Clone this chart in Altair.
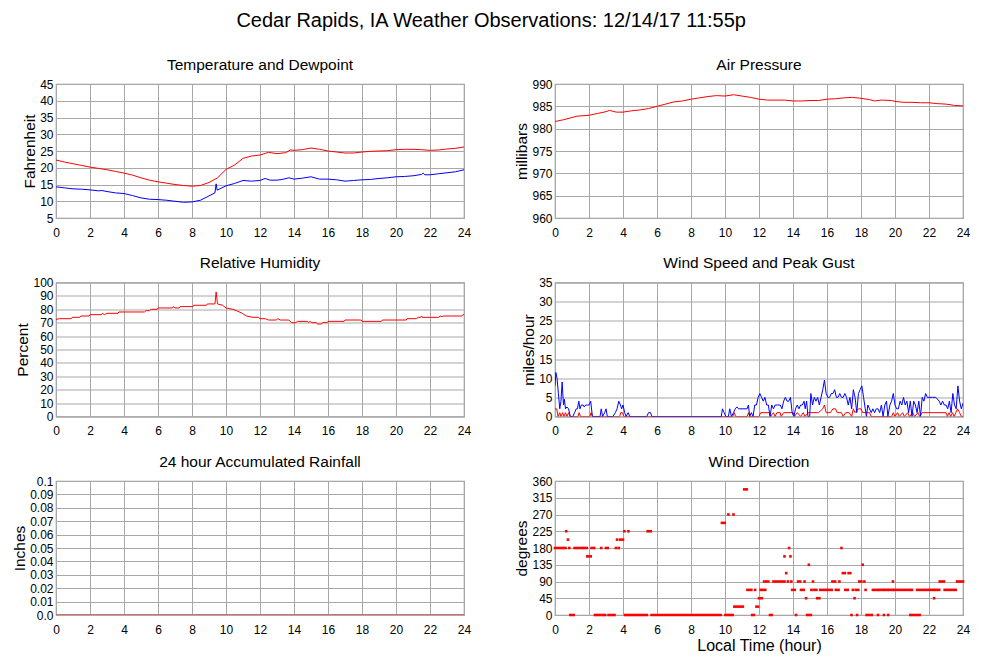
import altair as alt
import pandas as pd

FONT = "Liberation Sans"
RED = "#ff0000"
BLUE = "#0000ff"

X_TICKS = [0, 2, 4, 6, 8, 10, 12, 14, 16, 18, 20, 22, 24]

# ---------------- Temperature / Dewpoint ----------------
temp_h = [0, 0.5, 1, 1.5, 2, 2.5, 3, 3.5, 4, 4.5, 5, 5.5, 6, 6.5, 7, 7.5, 8, 8.5, 9, 9.5,
          10, 10.5, 11, 11.5, 12, 12.5, 13, 13.5, 13.8, 14, 14.5, 15, 15.5, 16, 16.5, 17,
          17.5, 18, 18.5, 19, 19.5, 20, 20.5, 21, 21.5, 22, 22.5, 23, 23.5, 24]
temp_v = [22.3, 21.7, 21.2, 20.7, 20.2, 19.8, 19.4, 18.9, 18.4, 17.8, 17.0, 16.3, 15.8, 15.4,
          15.0, 14.7, 14.5, 14.7, 15.6, 17.0, 19.5, 20.8, 22.8, 23.5, 23.8, 24.6, 24.2, 24.5,
          25.3, 25.2, 25.4, 25.9, 25.5, 25.0, 24.7, 24.4, 24.4, 24.7, 24.9, 25.0, 25.1, 25.4,
          25.5, 25.5, 25.4, 25.2, 25.3, 25.6, 25.8, 26.2]

dew_h = [0, 0.5, 1, 1.5, 2, 2.5, 2.7, 3, 3.5, 4, 4.5, 5, 5.5, 6, 6.5, 7, 7.5, 8, 8.5, 9,
         9.35, 9.42, 9.48, 10, 10.5, 11, 11.5, 12, 12.3, 12.6, 13, 13.3, 13.7, 14, 14.5, 15,
         15.5, 16, 16.5, 17, 17.5, 18, 18.5, 19, 19.5, 20, 20.5, 21, 21.5, 21.6, 21.7, 22,
         22.5, 23, 23.5, 24]
dew_v = [14.3, 14.0, 13.7, 13.6, 13.4, 13.1, 13.2, 12.9, 12.5, 12.3, 11.7, 11.0, 10.6, 10.5,
         10.3, 10.0, 9.7, 9.8, 10.3, 11.6, 12.5, 15.2, 13.3, 14.6, 15.3, 16.2, 16.0, 16.2,
         16.8, 16.3, 16.3, 16.5, 17.0, 16.6, 16.9, 17.3, 16.6, 16.6, 16.4, 16.0, 16.2, 16.4,
         16.5, 16.8, 17.0, 17.3, 17.4, 17.6, 18.0, 18.4, 17.9, 17.9, 18.2, 18.5, 18.8, 19.4]

# ---------------- Pressure ----------------
pres_h = [0, 0.5, 1, 1.3, 2, 2.5, 3, 3.2, 3.6, 4, 4.5, 5, 5.5, 6, 6.5, 7, 7.5, 8, 8.5, 9,
          9.5, 10, 10.5, 11, 11.5, 12, 12.5, 13, 13.5, 14, 14.5, 15, 15.5, 16, 16.5, 17,
          17.5, 18, 18.5, 18.8, 19.2, 19.8, 20, 20.5, 21, 21.5, 22, 22.5, 23, 23.5, 24]
pres_v = [981.6, 982.0, 982.5, 982.8, 983.0, 983.4, 983.8, 984.1, 983.7, 983.7, 984.0, 984.2,
          984.5, 985.0, 985.5, 986.0, 986.2, 986.6, 986.9, 987.2, 987.4, 987.3, 987.6, 987.3,
          987.0, 986.6, 986.4, 986.4, 986.4, 986.2, 986.2, 986.3, 986.3, 986.6, 986.7, 986.9,
          987.0, 986.8, 986.5, 986.2, 986.4, 986.3, 986.1, 985.9, 985.9, 985.8, 985.8, 985.6,
          985.5, 985.2, 985.1]

# ---------------- Relative humidity ----------------
rh_h = [0, 0.2, 0.9, 0.95, 1.4, 1.45, 1.95, 2.0, 2.65, 2.75, 2.85, 3.0, 3.65, 3.7, 5.2, 5.3,
        5.5, 5.6, 5.95, 6.0, 6.85, 6.9, 7.0, 7.25, 7.3, 8.05, 8.1, 8.85, 8.9, 9.35, 9.42, 9.5,
        9.8, 10.0, 10.4, 10.7, 10.95, 11.2, 11.6, 11.9, 12.0, 12.3, 12.4, 12.5, 12.95, 13.05,
        13.2, 13.7, 13.85, 14.1, 14.2, 14.8, 14.85, 14.95, 15.05, 15.3, 15.4, 15.6, 15.7,
        15.95, 16.0, 16.95, 17.0, 17.95, 18.0, 19.15, 19.2, 20.6, 20.65, 21.2, 21.3, 21.45,
        21.5, 21.55, 22.5, 22.6, 22.7, 22.8, 23.85, 23.95, 24]
rh_v = [72.5, 73, 73, 74, 74, 75, 75, 76, 76, 77, 76, 77, 77, 78, 78, 79, 79, 80, 80, 81, 81,
        82, 81, 81, 82, 82, 83, 83, 84, 84, 93, 84, 83, 81, 80, 78.5, 77, 75, 74, 74, 73, 73,
        72.5, 72, 72, 73, 72, 72, 70, 70, 71, 71, 70, 71, 70, 70, 69, 69, 70, 70, 71, 71, 72,
        72, 71, 71, 72, 72, 73, 73, 74, 74, 75, 74, 74, 75, 74.5, 75, 75, 76, 76]

# ---------------- Wind speed (blue) and red trace ----------------
ws_h = [0.0, 0.05, 0.12, 0.2, 0.28, 0.35, 0.42, 0.5, 0.55, 0.62, 0.7, 0.8, 0.9, 1.05, 1.15,
        1.25, 1.32, 1.4, 1.47, 1.55, 1.65, 1.72, 1.8, 1.9, 2.0, 2.1, 2.2, 2.65, 2.72, 2.8,
        2.92, 3.0, 3.08, 3.4, 3.55, 3.65, 3.75, 3.85, 3.92, 4.0, 4.1, 4.18, 4.3, 4.4, 5.4,
        5.5, 5.62, 5.7, 9.78, 9.85, 9.95, 10.05, 10.2, 10.28, 10.38, 10.5, 10.6, 10.7, 10.8,
        11.3, 11.38, 11.45, 11.55, 11.65, 11.75, 11.85, 11.95, 12.05, 12.15, 12.25, 12.35,
        12.45, 12.55, 12.65, 12.75, 12.85, 12.95, 13.05, 13.25, 13.35, 13.45, 13.55, 13.65,
        13.75, 13.85, 13.95, 14.05, 14.15, 14.25, 14.35, 14.45, 14.55, 14.65, 14.72, 14.8,
        14.88, 14.98, 15.05, 15.15, 15.25, 15.35, 15.45, 15.55, 15.65, 15.75, 15.85, 15.95,
        16.05, 16.15, 16.25, 16.35, 16.45, 16.55, 16.65, 16.75, 16.85, 16.95, 17.05, 17.15,
        17.25, 17.35, 17.45, 17.55, 17.65, 17.75, 17.85, 17.95, 18.05, 18.15, 18.25, 18.32,
        18.4, 18.5, 18.6, 18.7, 18.8, 18.9, 19.0, 19.1, 19.2, 19.3, 19.4, 19.5, 19.58, 19.7,
        19.8, 19.9, 20.0, 20.1, 20.2, 20.3, 20.4, 20.5, 20.6, 20.7, 20.8, 20.9, 21.0, 21.1,
        21.2, 21.3, 21.4, 21.5, 21.6, 21.7, 21.8, 21.9, 22.0, 22.2, 22.4, 22.6, 22.7, 22.8,
        22.9, 23.0, 23.1, 23.2, 23.3, 23.4, 23.5, 23.6, 23.7, 23.8, 23.9, 24.0]
ws_v = [8, 11.5, 10, 6, 2, 4, 9, 3, 4.5, 2, 2.5, 2, 0, 0, 1,
        2, 2, 4, 2, 3, 3, 2.5, 3, 3, 3, 4, 0, 0, 2, 0,
        1, 2, 0, 0, 1, 2, 4, 3, 2, 3, 1, 0, 1, 0, 0,
        1, 1, 0, 0, 2, 1, 0, 0, 2, 0, 1, 2, 2.5, 2,
        2, 3, 0, 1, 0, 3, 3, 5, 6, 5, 4, 5,
        3, 3, 0, 3, 2, 3, 3, 3, 2, 4, 5, 4,
        4, 5, 1, 0, 2, 3, 2, 3, 3, 4, 2, 4,
        0, 0, 6, 3, 5, 4, 5, 3, 5, 7, 9.5, 6,
        5, 5, 6, 6, 7, 5, 5, 6, 5, 5, 6, 5,
        3, 5, 2, 7, 5, 1, 6, 7, 8, 5, 2, 0,
        3, 2, 1, 2, 1, 2, 2, 1, 3, 0, 3, 4, 0, 3,
        4, 6, 3, 2, 2, 4, 3, 5, 3, 4, 1, 4, 0, 4,
        3, 1, 4, 0, 5, 4, 6, 5, 5, 5, 5, 4, 3, 4,
        3, 3, 2, 4, 1, 6, 3, 2, 8, 4, 2, 3.5]

wr_h = [0.0, 0.1, 0.18, 0.28, 0.35, 0.45, 0.52, 0.62, 0.7, 0.8, 0.88, 1.35, 1.42, 1.5, 2.05,
        2.12, 2.2, 3.8, 3.87, 3.97, 4.05, 10.45, 10.55, 10.62, 11.3, 11.38, 11.45, 12.0, 12.1,
        12.6, 12.68, 12.85, 12.95, 13.05, 13.25, 13.3, 13.45, 14.0, 14.08, 14.25, 14.45, 14.6,
        14.7, 14.9, 15.5, 15.75, 15.85, 15.95, 16.2, 16.35, 16.5, 16.6, 16.85, 16.95, 17.1,
        17.3, 17.45, 17.55, 17.65, 17.85, 18.0, 18.1, 18.5, 18.6, 19.8, 19.9, 20.0, 20.15,
        20.25, 20.45, 20.55, 20.75, 20.85, 21.05, 21.15, 21.35, 21.45, 21.6, 23.0, 23.08,
        23.18, 23.28, 23.38, 23.48, 23.58, 23.68, 23.8, 23.9, 24.0]
wr_v = [2, 2, 0, 1, 0, 1, 0, 1, 0, 1, 0, 0, 1, 0, 0,
        1, 0, 0, 1, 1, 0, 0, 1, 0, 0, 1, 0, 0, 1,
        1, 0, 1, 0, 1, 1, 0, 1, 1, 0, 1, 0, 1,
        0, 1, 1, 2, 3, 1, 1, 2, 2, 1, 1, 0, 1,
        1, 0, 2, 1, 2, 2, 1, 1, 0, 0, 1, 0, 1,
        0, 1, 0, 1, 0, 1, 0, 1, 0, 1, 1, 0,
        1, 0, 1, 0, 1, 2, 1, 0, 0]

# ---------------- Rainfall ----------------
rain_h = [0, 24]
rain_v = [0.0, 0.0]

# ---------------- Wind direction (runs of equal readings) ----------------
dir_start = [0.0, 0.66, 0.76, 0.84, 0.9, 1.15, 1.9, 2.15, 2.35, 2.72, 2.8, 3.0, 3.15, 3.58,
             3.65, 3.75, 3.83, 4.08, 4.12, 4.32, 4.4, 5.45, 5.68, 9.82, 10.02, 10.2, 10.5,
             10.55, 11.13, 11.32, 11.6, 11.77, 11.85, 12.0, 12.1, 12.22, 12.3, 12.37, 12.65,
             12.85, 13.5, 13.6, 13.7, 13.77, 13.85, 13.9, 13.95, 14.18, 14.3, 14.47, 14.68,
             14.77, 14.83, 14.93, 15.08, 15.18, 15.22, 15.42, 15.6, 16.32, 16.52, 16.73, 16.85,
             16.93, 17.08, 17.27, 17.44, 17.52, 17.62, 17.69, 17.77, 17.84, 17.9, 18.1, 18.2,
             18.27, 18.33, 18.7, 19.0, 19.05, 19.35, 19.4, 19.6, 19.65, 19.88, 19.93, 20.9,
             21.0, 21.3, 22.3, 22.35, 22.63, 22.92, 23.65]
dir_end = [0.62, 0.66, 0.76, 0.84, 1.1, 1.87, 2.1, 2.3, 2.65, 2.72, 2.95, 3.1, 3.5, 3.58,
           3.65, 3.75, 4.0, 4.08, 4.27, 4.32, 5.4, 5.63, 9.75, 9.98, 10.45, 10.2, 10.5,
           11.05, 11.28, 11.55, 11.7, 11.77, 11.95, 12.17, 12.1, 12.22, 12.55, 12.37, 12.75,
           13.5, 13.5, 13.6, 13.7, 13.77, 13.85, 13.9, 14.1, 14.18, 14.42, 14.63, 14.68,
           14.77, 15.05, 14.93, 15.08, 15.18, 15.38, 15.55, 16.28, 16.48, 16.68, 16.73, 16.85,
           17.05, 17.22, 17.37, 17.44, 17.52, 17.62, 17.69, 17.77, 17.84, 18.02, 18.1, 18.2,
           18.27, 18.63, 18.95, 19.0, 19.3, 19.35, 19.55, 19.6, 19.85, 19.88, 20.88, 21.45,
           21.0, 22.25, 22.3, 22.6, 22.88, 23.57, 24.0]
dir_deg = [180, 225, 202.5, 180, 0, 180, 157.5, 180, 0, 180, 0, 180, 0, 180,
           202.5, 180, 202.5, 225, 0, 225, 0, 225, 0, 247.5, 0, 270, 270,
           22.5, 337.5, 67.5, 0, 67.5, 22.5, 45, 67.5, 67.5, 90, 67.5, 0,
           90, 157.5, 112.5, 90, 180, 157.5, 90, 67.5, 0, 90, 67.5, 90,
           45, 0, 135, 67.5, 90, 67.5, 45, 67.5, 90, 67.5, 90, 180,
           112.5, 67.5, 112.5, 0, 67.5, 45, 67.5, 0, 67.5, 90, 135, 90,
           67.5, 0, 67.5, 0, 67.5, 0, 67.5, 0, 67.5, 90, 67.5, 0,
           67.5, 67.5, 45, 67.5, 90, 67.5, 90]

PW, PH = 408, 134


def xenc(title=None, field="h"):
    return alt.X(f"{field}:Q", scale=alt.Scale(domain=[0, 24], nice=False, zero=False),
                 axis=alt.Axis(values=X_TICKS, title=title, format="d", labelPadding=9,
                               labelFlush=False, titleFontSize=16, titlePadding=2))


def yenc(field, dom, vals, title, label_expr=None):
    kw = dict(values=vals, title=title, labelPadding=3, titlePadding=2, labelFlush=False)
    if label_expr:
        kw["labelExpr"] = label_expr
    return alt.Y(f"{field}:Q", scale=alt.Scale(domain=dom, nice=False, zero=False),
                 axis=alt.Axis(**kw))


def line(h, v, color, dom, vals, ytitle, label_expr=None, width=1.0):
    df = pd.DataFrame({"h": h, "v": v})
    return alt.Chart(df).mark_line(color=color, strokeWidth=width, clip=True).encode(
        x=xenc(), y=yenc("v", dom, vals, ytitle, label_expr))


def ptitle(t):
    return alt.TitleParams(text=t, fontSize=15.5, font=FONT, fontWeight="normal", offset=5, anchor="middle")


t_dom, t_vals = [5, 45], [5, 10, 15, 20, 25, 30, 35, 40, 45]
temp_chart = alt.layer(
    line(temp_h, temp_v, RED, t_dom, t_vals, "Fahrenheit"),
    line(dew_h, dew_v, BLUE, t_dom, t_vals, "Fahrenheit"),
).properties(width=PW, height=PH, title=ptitle("Temperature and Dewpoint"))

p_dom, p_vals = [960, 990], [960, 965, 970, 975, 980, 985, 990]
pres_chart = line(pres_h, pres_v, RED, p_dom, p_vals, "millibars").properties(
    width=PW, height=PH, title=ptitle("Air Pressure"))

r_dom, r_vals = [0, 100], [0, 10, 20, 30, 40, 50, 60, 70, 80, 90, 100]
rh_chart = line(rh_h, rh_v, RED, r_dom, r_vals, "Percent").properties(
    width=PW, height=PH, title=ptitle("Relative Humidity"))

w_dom, w_vals = [0, 35], [0, 5, 10, 15, 20, 25, 30, 35]
wind_chart = alt.layer(
    line(wr_h, wr_v, RED, w_dom, w_vals, "miles/hour"),
    line(ws_h, ws_v, BLUE, w_dom, w_vals, "miles/hour"),
).properties(width=PW, height=PH, title=ptitle("Wind Speed and Peak Gust"))

rn_dom = [0, 0.1]
rn_vals = [0, 0.01, 0.02, 0.03, 0.04, 0.05, 0.06, 0.07, 0.08, 0.09, 0.1]
rain_chart = line(rain_h, rain_v, "#d86a6a", rn_dom, rn_vals, "Inches",
                  label_expr="datum.value == 0 ? '0.0' : format(datum.value, '.2~f')",
                  width=2.0).properties(width=PW, height=PH, title=ptitle("24 hour Accumulated Rainfall"))

d_dom, d_vals = [0, 360], [0, 45, 90, 135, 180, 225, 270, 315, 360]
dir_df = pd.DataFrame({"s": dir_start, "e": dir_end, "d": dir_deg})
dir_chart = alt.Chart(dir_df).mark_rule(color=RED, strokeWidth=2.6, strokeCap="square").encode(
    x=xenc("Local Time (hour)", field="s"),
    x2="e:Q",
    y=yenc("d", d_dom, d_vals, "degrees"),
).properties(width=PW, height=PH, title=ptitle("Wind Direction"))

chart = alt.concat(
    temp_chart, pres_chart, rh_chart, wind_chart, rain_chart, dir_chart,
    columns=2, spacing=alt.RowColnumber(row=64.5, column=91), bounds="flush",
).properties(
    title=alt.TitleParams(text="Cedar Rapids, IA Weather Observations: 12/14/17 11:55p",
                          fontSize=20, font=FONT, fontWeight="normal", anchor="middle", offset=26),
    padding={"left": 4, "top": 2, "right": 5, "bottom": 2},
).configure_axis(
    labelFont=FONT, labelFontSize=12, labelColor="#000", titleFont=FONT, titleFontSize=15.5,
    titleFontWeight="normal", titleColor="#000", gridColor="#a8a8a8", gridWidth=1,
    domain=False, ticks=False,
).configure_view(stroke="#999", strokeWidth=1.2).configure_title(color="#000")

chart.save("out.html", embed_options={"renderer": "svg", "actions": False})
